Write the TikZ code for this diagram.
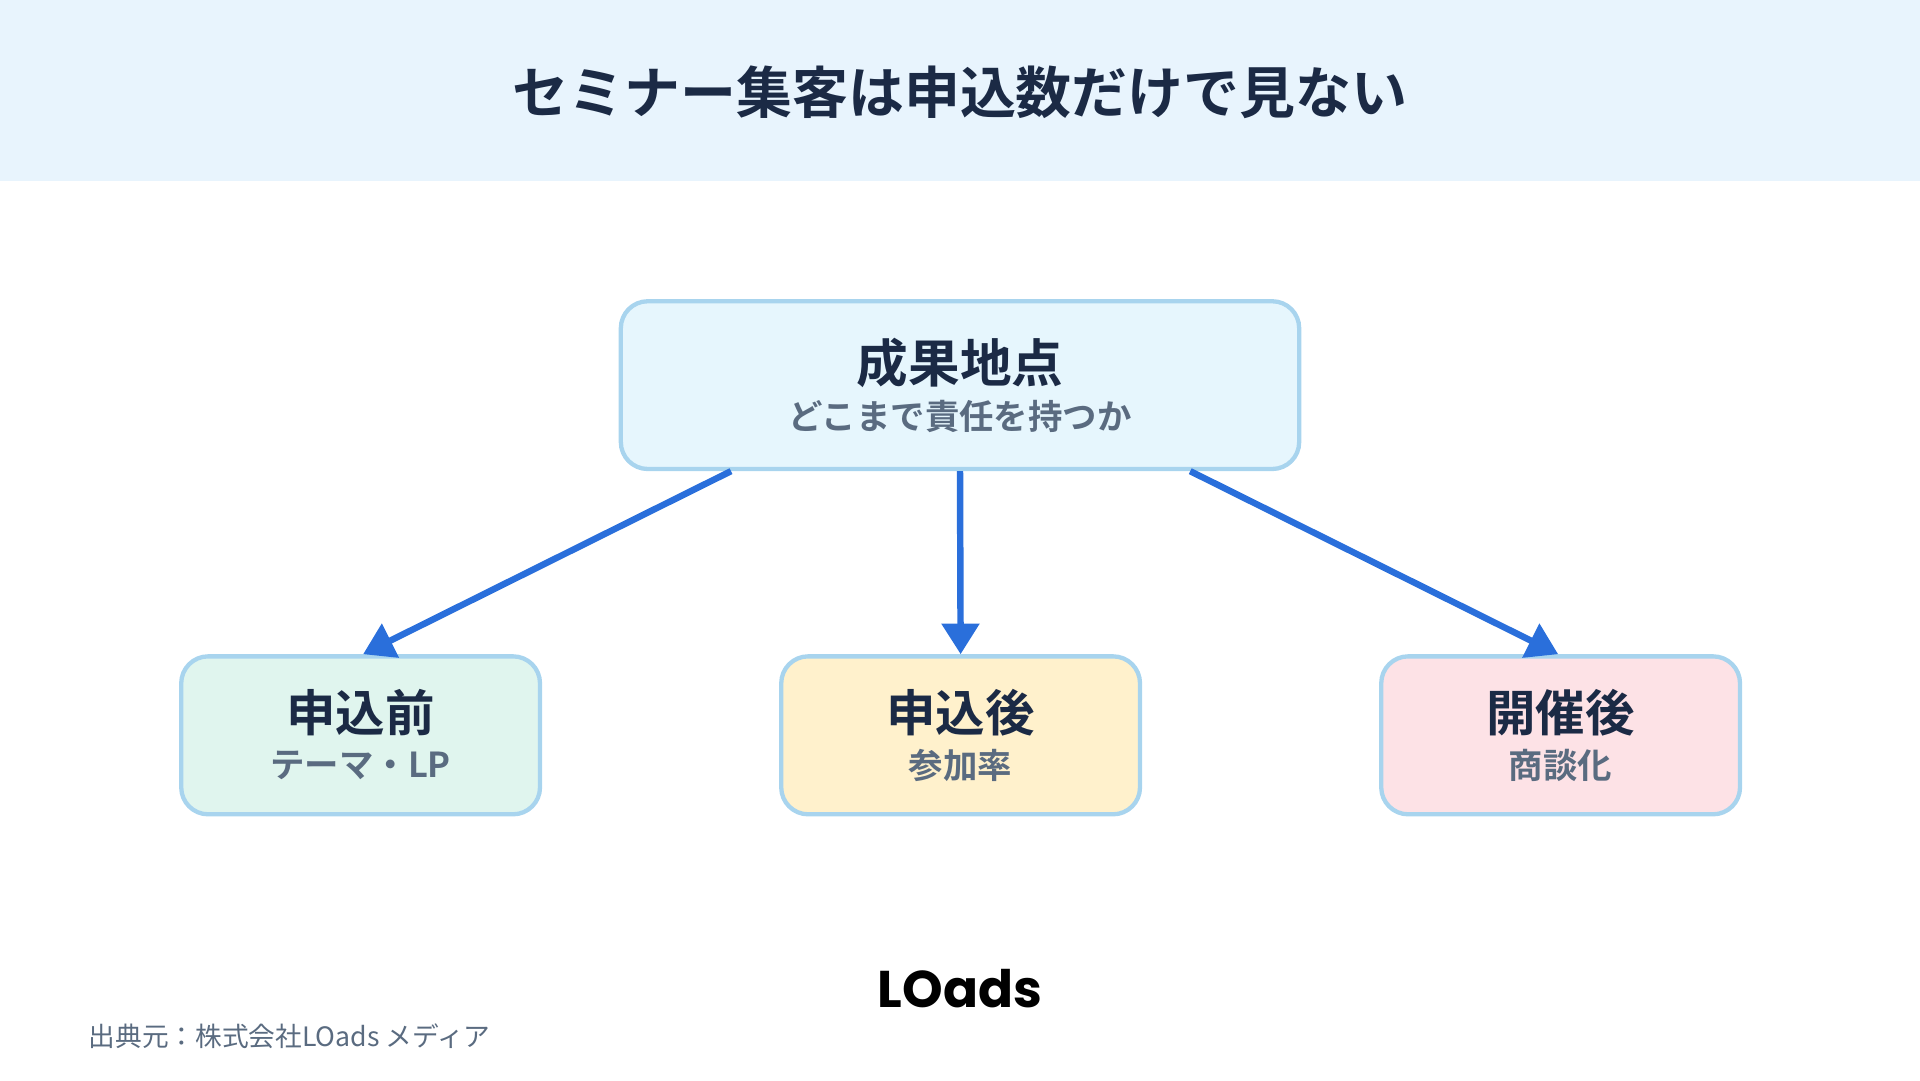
\documentclass[tikz,border=0pt]{standalone}
\usepackage{fontspec}
\newfontfamily\jp{Noto Sans CJK JP}
\newfontfamily\jpb{Noto Sans CJK JP Bold}
\newfontfamily\logof{Poppins}[UprightFont=* Bold]
\usetikzlibrary{calc,arrows.meta}
\definecolor{hdr}{HTML}{E8F4FD}
\definecolor{ink}{HTML}{1B2A45}
\definecolor{sub}{HTML}{5A6B80}
\definecolor{bord}{HTML}{A8D4EE}
\definecolor{arr}{HTML}{2A6FDB}
\definecolor{bl}{HTML}{E6F6FD}
\definecolor{g}{HTML}{E0F5EE}\definecolor{yl}{HTML}{FFF1CC}\definecolor{pk}{HTML}{FDE2E6}
\tikzset{
 box/.style={draw=bord,line width=1pt,rounded corners=0.22cm,align=center,inner sep=0pt},
 conn/.style={draw=arr,line width=1.5pt,-{Triangle[width=0.3cm,length=0.25cm]}},
 ttl/.style={font=\jpb\fontsize{12}{14}\selectfont,text=ink},
 st/.style={font=\jpb\fontsize{8}{10}\selectfont,text=sub}
}
\begin{document}
\begin{tikzpicture}[y=-1cm]
\useasboundingbox (0,0) rectangle (15.68,8.82);
\fill[hdr] (0,0) rectangle (15.68,1.48);
\node[font=\jpb\fontsize{13}{15}\selectfont,text=ink] (title) at (7.84,0.75) {セミナー集客は申込数だけで見ない};
\node[box,fill=bl,minimum width=5.54cm,minimum height=1.37cm] (top) at (7.84,3.145) {};
\node[ttl] (t1) at (7.84,2.96) {成果地点};
\node[st] (t2) at (7.84,3.40) {どこまで責任を持つか};
\node[box,fill=g,minimum width=2.93cm,minimum height=1.29cm] (b1) at (2.945,6.005) {};
\node[box,fill=yl,minimum width=2.93cm,minimum height=1.29cm] (b2) at (7.845,6.005) {};
\node[box,fill=pk,minimum width=2.93cm,minimum height=1.29cm] (b3) at (12.745,6.005) {};
\foreach \n/\x/\a/\b in {1/2.945/申込前/テーマ・LP,2/7.845/申込後/参加率,3/12.745/開催後/商談化}{
 \node[ttl,font=\jpb\fontsize{11.5}{14}\selectfont] (h\n) at (\x,5.82) {\a};
 \node[st] (s\n) at (\x,6.25) {\b};}
\draw[conn] ($(top.south)+(-1.87,0)$) -- ($(b1.north)+(0.02,0)$);
\draw[conn] (top.south) -- (b2.north);
\draw[conn] ($(top.south)+(1.88,0)$) -- ($(b3.north)+(-0.02,0)$);
\node[font=\logof\fontsize{12}{14}\selectfont,text=black] (logo) at (7.84,8.07) {LOads};
\node[font=\jp\fontsize{6.2}{7}\selectfont,text=sub,anchor=west] (src) at (0.6,8.46) {出典元：株式会社LOads メディア};
\end{tikzpicture}
\end{document}
